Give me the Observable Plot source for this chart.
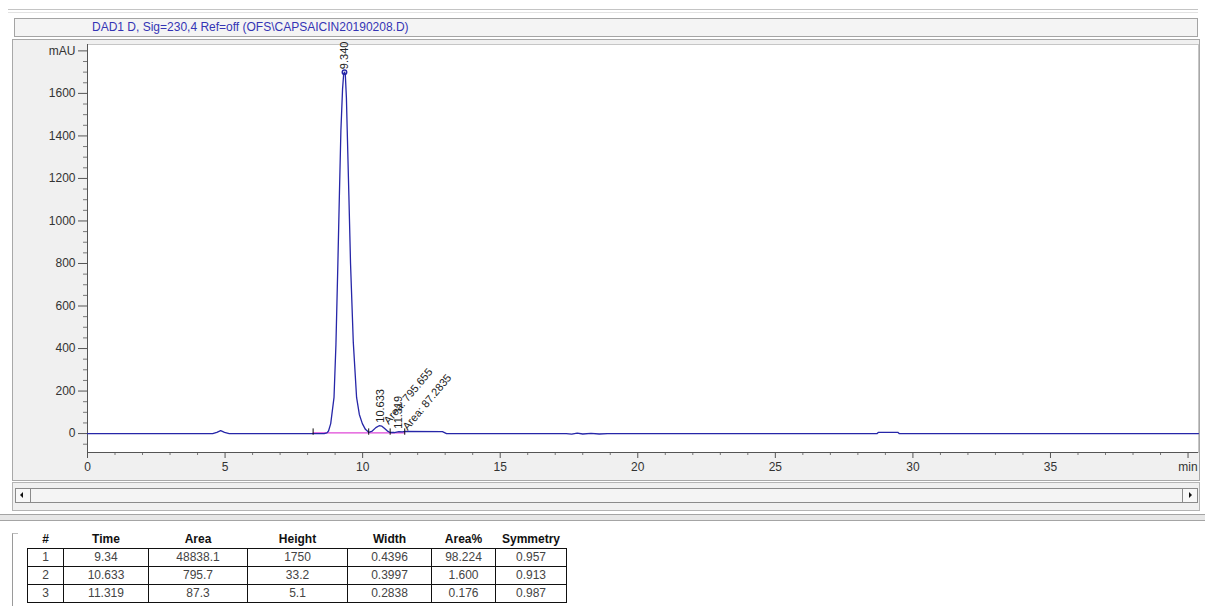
<!DOCTYPE html>
<html><head><meta charset="utf-8">
<script src="https://cdn.jsdelivr.net/npm/d3@7"></script>
<script src="https://cdn.jsdelivr.net/npm/@observablehq/plot@0.6"></script>
<style>
body{margin:0;width:1205px;height:606px;position:relative;background:#fff;font-family:"Liberation Sans",Arial,sans-serif;overflow:hidden}
.abs{position:absolute;box-sizing:border-box}
#topline{left:8px;top:9px;width:1190px;height:4px;border-top:1px solid #c4c4c4;border-bottom:1px solid #e2e2e2}
#titlebox{left:14px;top:18px;width:1184px;height:19px;border:1px solid #a4a4a4;background:#f4f4f4}
#titlebox span{position:absolute;left:77px;top:1px;font-size:12px;color:#3434b4;white-space:nowrap}
#panel{left:12px;top:39px;width:1188px;height:442px;background:#f0f0f0;border:1px solid #a8a8a8}
#chart{left:0;top:0}
#scrollpanel{left:12px;top:482px;width:1188px;height:29px;background:#f0f0f0;border:1px solid #b4b4b4}
#scroll{left:15px;top:488px;width:1183px;height:15px;border:1px solid #8a8a8a;background:#f4f4f4}
.arr{position:absolute;top:0;width:14px;height:13px;background:#f8f8f8}
.arr.l{left:0;border-right:1px solid #8a8a8a}
.arr.r{right:0;border-left:1px solid #8a8a8a}
.arr.l::after{content:"";position:absolute;left:4px;top:3px;border-top:3px solid transparent;border-bottom:3px solid transparent;border-right:3px solid #111}
.arr.r::after{content:"";position:absolute;left:6px;top:3px;border-top:3px solid transparent;border-bottom:3px solid transparent;border-left:3px solid #111}
#sep{left:0;top:514px;width:1205px;height:7px;border-top:1px solid #a4a4a4;border-bottom:1px solid #a4a4a4;background:#e6e6e6}
#lower{left:12px;top:533px;width:6px;height:73px;border-left:1px solid #9a9a9a;border-top:1px solid #bdbdbd}
#peaks{position:absolute;left:27px;top:530px;border-collapse:collapse;font-size:12px;table-layout:fixed}
#peaks th{font-weight:bold;color:#111;height:18px;padding:0;text-align:center;border:none}
#peaks td{border:1px solid #111;background:#fff;color:#444;height:17px;padding:0;text-align:center;line-height:17px}
</style></head><body>
<div class="abs" id="topline"></div>
<div class="abs" id="titlebox"><span id="title"></span></div>
<div class="abs" id="panel"></div>
<div class="abs" id="chart"></div>
<div class="abs" id="scrollpanel"></div>
<div class="abs" id="scroll"><div class="arr l"></div><div class="arr r"></div></div>
<div class="abs" id="sep"></div>
<div class="abs" id="lower"></div>
<table id="peaks"></table>
<script>
// ---- chart text ----
const titleText = "DAD1 D, Sig=230,4 Ref=off (OFS\\CAPSAICIN20190208.D)";

// ---- chromatogram trace (min, mAU) ----
const traceTime = [0, 4.55, 4.7, 4.84, 4.98, 5.15, 8.2, 8.6, 8.7, 8.76, 8.84, 8.96, 9.03, 9.1, 9.16, 9.21, 9.27, 9.31, 9.34, 9.37, 9.41, 9.44, 9.5, 9.56, 9.66, 9.78, 9.88, 9.99, 10.1, 10.22, 10.35, 10.48, 10.6, 10.7, 10.8, 10.92, 11.0, 11.15, 11.319, 11.45, 11.53, 12.9, 13.05, 17.4, 17.6, 17.8, 18.0, 18.3, 18.6, 18.9, 28.7, 28.75, 29.45, 29.5, 40.38];
const traceValue = [0, 0, 6, 14, 6, 0, 0, 0, 3, 12, 47, 170, 420, 800, 1150, 1425, 1620, 1690, 1700, 1690, 1580, 1425, 1120, 800, 430, 170, 90, 47, 20, 6, 12, 28, 37, 35, 24, 10, 5, 5, 9, 8, 10, 9, 0, 0, -3, 2, -2, 1, -2, 0, 0, 6, 6, 0, 0];

// ---- integration events ----
const baselineStart = 8.2, baselineEnd = 11.53, baselineLevel = 3;
const integrationMarks = [8.2, 10.22, 11.0, 11.53];

// ---- peak table ----
const peakNo = ["1", "2", "3"];
const peakTime = ["9.34", "10.633", "11.319"];
const peakArea = ["48838.1", "795.7", "87.3"];
const peakHeight = ["1750", "33.2", "5.1"];
const peakWidth = ["0.4396", "0.3997", "0.2838"];
const peakAreaPct = ["98.224", "1.600", "0.176"];
const peakSymmetry = ["0.957", "0.913", "0.987"];
const tableHeaders = ["#", "Time", "Area", "Height", "Width", "Area%", "Symmetry"];

// ---- peak annotations ----
const peakRT = [9.34, 10.633, 11.319];
const peakApex = [1700, 37, 9];
const areaLabels = ["", "Area: 795.655", "Area: 87.2835"];

// ---- axes ----
const xDomain = [0, 40.38], yDomain = [-89, 1830];
const xMajor = [0, 5, 10, 15, 20, 25, 30, 35, 40];
const yMajor = [0, 200, 400, 600, 800, 1000, 1200, 1400, 1600, 1800];
const xMinor = d3.range(0, 41, 1).filter(d => d % 5 !== 0);
const yMinor = d3.range(-50, 1801, 50).filter(d => d % 200 !== 0);

document.getElementById("title").textContent = titleText;

const trace = traceTime.map((t, i) => ({t, v: traceValue[i]}));
const peaks = peakRT.map((t, i) => ({t, v: peakApex[i], rt: t.toFixed(3), area: areaLabels[i]}));
const fine = "#333";

const chart = Plot.plot({
  width: 1205, height: 480,
  marginLeft: 87, marginRight: 7, marginTop: 44, marginBottom: 28,
  style: {background: "transparent", fontFamily: "Liberation Sans, Arial, sans-serif", fontSize: "12px", color: fine, overflow: "visible"},
  x: {domain: xDomain, label: null},
  y: {domain: yDomain, label: null},
  marks: [
    Plot.frame({fill: "white", stroke: "#c6c6c6"}),
    Plot.axisY({ticks: yMajor, tickFormat: d => d === 1800 ? "mAU" : String(d), tickSize: 9, tickPadding: 3, label: null, stroke: "#555"}),
    Plot.axisY({ticks: yMinor, tickFormat: () => "", tickSize: 4, label: null, stroke: "#777"}),
    Plot.axisX({ticks: xMajor, tickFormat: d => d === 40 ? "min" : String(d), tickSize: 6, tickPadding: 4, label: null, stroke: "#555"}),
    Plot.axisX({ticks: xMinor, tickFormat: () => "", tickSize: 3, label: null, stroke: "#777"}),
    Plot.ruleX([xDomain[0]], {stroke: "#555"}),
    Plot.ruleY([yDomain[0]], {stroke: "#555"}),
    Plot.line([[baselineStart, baselineLevel], [baselineEnd, baselineLevel]], {stroke: "#e048d8", strokeWidth: 1.2}),
    Plot.line(trace, {x: "t", y: "v", stroke: "#2626a8", strokeWidth: 1.3}),
    Plot.ruleX(integrationMarks, {x: d => d, y1: -8, y2: 22, stroke: "#111"}),
    Plot.dot(peaks.slice(0, 1), {x: "t", y: "v", r: 2.2, stroke: "#2626a8", fill: "none"}),
    Plot.text(peaks, {x: "t", y: "v", text: "rt", rotate: -90, textAnchor: "start", lineAnchor: "middle", dy: -3, fontSize: 11, fill: "#222"}),
    Plot.text(peaks, {x: "t", y: "v", text: "area", rotate: -50, textAnchor: "start", lineAnchor: "middle", dx: 6, dy: -3, fontSize: 11, fill: "#222"})
  ]
});
document.getElementById("chart").appendChild(chart);

// peak table
const table = d3.select("#peaks");
const widths = [36, 85, 99, 100, 84, 64, 71];
table.append("colgroup").selectAll("col").data(widths).join("col").style("width", d => d + "px");
table.append("tr").selectAll("th").data(tableHeaders).join("th").text(d => d);
const rows = peakNo.map((n, i) => [n, peakTime[i], peakArea[i], peakHeight[i], peakWidth[i], peakAreaPct[i], peakSymmetry[i]]);
table.selectAll("tr.r").data(rows).join("tr").attr("class", "r").selectAll("td").data(d => d).join("td").text(d => d);
</script>
</body></html>
